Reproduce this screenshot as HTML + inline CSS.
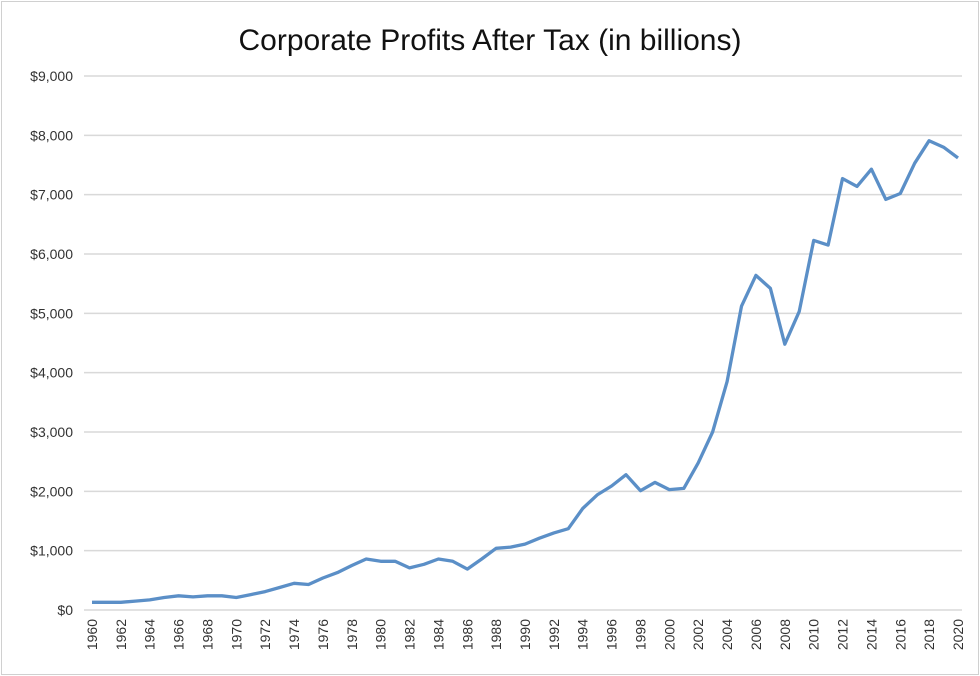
<!DOCTYPE html>
<html><head><meta charset="utf-8"><style>
body{margin:0;background:#fff;}
#frame{position:absolute;left:1px;top:1px;width:976px;height:672px;border:1px solid #d0d0d0;background:#fff;}
svg{position:absolute;left:0;top:0;font-family:"Liberation Sans",sans-serif;}
</style></head><body>
<div id="frame"></div>
<svg id="chart" width="980" height="676">
<text x="490" y="50" text-anchor="middle" font-size="30" fill="#111">Corporate Profits After Tax (in billions)</text>
<g id="grid"></g><g id="ylabels"></g><g id="xlabels"></g>
<path id="line" fill="none" stroke="#5b8fc7" stroke-width="3.3" stroke-linejoin="round"/>
</svg>
<script>
const years=[];for(let y=1960;y<=2020;y++)years.push(y);
const profits=[130,130,130,150,170,210,240,220,240,240,210,260,310,380,450,430,540,630,750,860,820,820,710,770,860,820,690,860,1040,1060,1110,1210,1300,1370,1710,1940,2090,2280,2010,2150,2030,2050,2480,3000,3850,5120,5640,5420,4480,5030,6230,6150,7270,7140,7430,6920,7020,7530,7910,7800,7620];
const yTicks=[0,1000,2000,3000,4000,5000,6000,7000,8000,9000];
const yTickLabels=["$0","$1,000","$2,000","$3,000","$4,000","$5,000","$6,000","$7,000","$8,000","$9,000"];
const NS="http://www.w3.org/2000/svg";
const x0=92,x1=958,yb=610,yt=76;
const xs=v=>x0+(v-1960)*(x1-x0)/60;
const ys=v=>yb-v*(yb-yt)/9000;
const grid=document.getElementById('grid'),yl=document.getElementById('ylabels'),xl=document.getElementById('xlabels');
yTicks.forEach((t,i)=>{
 const l=document.createElementNS(NS,'line');
 l.setAttribute('x1',84);l.setAttribute('x2',962);l.setAttribute('y1',ys(t));l.setAttribute('y2',ys(t));
 l.setAttribute('stroke','#d9d9d9');l.setAttribute('stroke-width','1.5');
 
 
 grid.appendChild(l);
 const tx=document.createElementNS(NS,'text');
 tx.setAttribute('x',73);tx.setAttribute('y',ys(t)+5);tx.setAttribute('text-anchor','end');
 tx.setAttribute('font-size','14');tx.setAttribute('fill','#333');tx.textContent=yTickLabels[i];
 
 
 yl.appendChild(tx);
});
years.filter(y=>y%2===0).forEach(y=>{
 const tx=document.createElementNS(NS,'text');
 const x=xs(y)+5;
 tx.setAttribute('transform','translate('+x+',619) rotate(-90)');
 tx.setAttribute('text-anchor','end');tx.setAttribute('font-size','14');tx.setAttribute('fill','#333');
 tx.textContent=y;
 
 
 xl.appendChild(tx);
});
document.getElementById('line').setAttribute('d',profits.map((v,i)=>(i?'L':'M')+xs(years[i]).toFixed(1)+','+ys(v).toFixed(1)).join(''));
</script>
</body></html>
